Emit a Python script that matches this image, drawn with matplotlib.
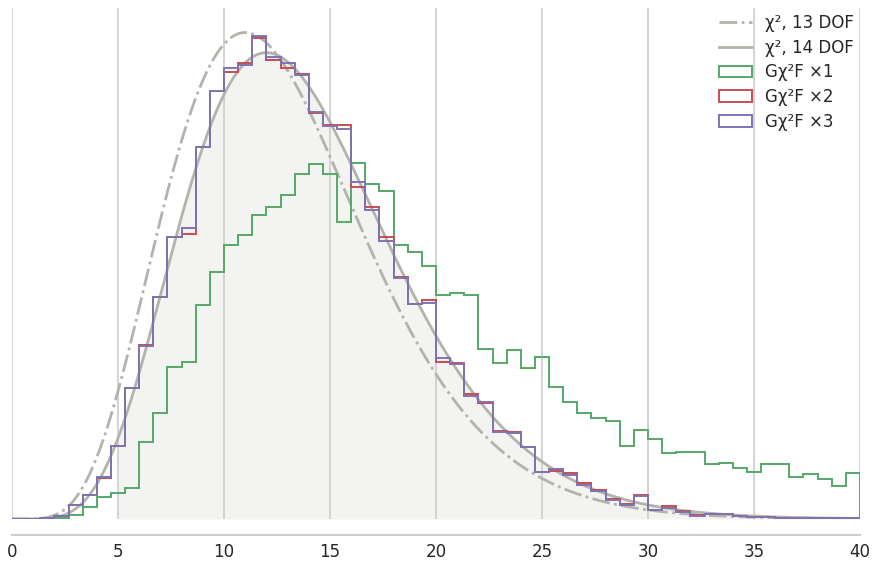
import math
import numpy as np
import matplotlib
matplotlib.use("Agg")
import matplotlib.pyplot as plt

# 60 bins of width 2/3 between 0 and 40
edges = np.linspace(0, 40, 61)

# densities, one value per bin
gx1 = [0, 0, 0, 0.0002, 0.0007, 0.0021, 0.0038, 0.0045, 0.0053, 0.0133,
       0.0183, 0.0262, 0.0270, 0.0369, 0.0425, 0.0472, 0.0489, 0.0524, 0.0537, 0.0558,
       0.0594, 0.0611, 0.0594, 0.0511, 0.0613, 0.0577, 0.0565, 0.0472, 0.0460, 0.0435,
       0.0386, 0.0389, 0.0386, 0.0293, 0.0269, 0.0291, 0.0260, 0.0279, 0.0227, 0.0201,
       0.0183, 0.0174, 0.0169, 0.0126, 0.0153, 0.0138, 0.0114, 0.0115, 0.0115, 0.0095,
       0.0096, 0.0088, 0.0081, 0.0095, 0.0095, 0.0072, 0.0077, 0.0069, 0.0057, 0.0079]
gx2 = [0, 0, 0.0001, 0.0005, 0.0024, 0.0041, 0.0071, 0.0126, 0.0226, 0.0300,
       0.0382, 0.0486, 0.0491, 0.0641, 0.0737, 0.0770, 0.0785, 0.0828, 0.0790, 0.0777,
       0.0766, 0.0699, 0.0678, 0.0678, 0.0572, 0.0537, 0.0486, 0.0417, 0.0370, 0.0377,
       0.0270, 0.0269, 0.0215, 0.0200, 0.0152, 0.0150, 0.0124, 0.0081, 0.0083, 0.0079,
       0.0062, 0.0050, 0.0034, 0.0026, 0.0041, 0.0015, 0.0022, 0.0014, 0.0007, 0.0009,
       0.0009, 0.0005, 0.0003, 0.0003, 0.0002, 0.0002, 0.0002, 0.0001, 0.0001, 0.0001]
gx3 = [0, 0, 0.0001, 0.0005, 0.0024, 0.0041, 0.0073, 0.0126, 0.0226, 0.0298,
       0.0382, 0.0486, 0.0501, 0.0641, 0.0737, 0.0777, 0.0782, 0.0832, 0.0796, 0.0785,
       0.0765, 0.0701, 0.0677, 0.0672, 0.0580, 0.0532, 0.0479, 0.0415, 0.0370, 0.0372,
       0.0277, 0.0267, 0.0212, 0.0201, 0.0150, 0.0148, 0.0124, 0.0081, 0.0086, 0.0076,
       0.0059, 0.0048, 0.0033, 0.0024, 0.0040, 0.0015, 0.0019, 0.0012, 0.0005, 0.0009,
       0.0009, 0.0005, 0.0003, 0.0003, 0.0002, 0.0002, 0.0002, 0.0001, 0.0001, 0.0001]

series = [(gx1, "Gχ²F ×1", "#55a868"),
          (gx2, "Gχ²F ×2", "#c44e52"),
          (gx3, "Gχ²F ×3", "#8172b2")]


def chi2_pdf(x, k):
    x = np.asarray(x, dtype=float)
    out = np.zeros_like(x)
    m = x > 0
    out[m] = np.exp((k / 2 - 1) * np.log(x[m]) - x[m] / 2
                    - (k / 2) * math.log(2) - math.lgamma(k / 2))
    return out


xs = np.linspace(0, 40, 801)
curve_col = "#b3b3ab"

fig = plt.figure(figsize=(8.72, 5.64), dpi=100)
ax = fig.add_axes([12 / 872, 45 / 564, 848 / 872, 511 / 564])

p14 = chi2_pdf(xs, 14)
ax.fill_between(xs[xs >= 5], p14[xs >= 5], color="#f3f3f1", lw=0, zorder=0)
ax.plot(xs, chi2_pdf(xs, 13), ls="-.", color=curve_col, lw=2, label="χ², 13 DOF", zorder=3)
ax.plot(xs, p14, color=curve_col, lw=2, label="χ², 14 DOF", zorder=3)

centers = (edges[:-1] + edges[1:]) / 2
for vals, lab, col in series:
    ax.hist(centers, bins=edges, weights=vals, histtype="step", color=col, lw=1.4,
            label=lab, zorder=4)

ax.set_xlim(0, 40)
ax.set_ylim(0, 0.088)
ax.set_xticks(range(0, 41, 5))
ax.set_yticks([])
ax.grid(axis="x", color="#cccccc", lw=1.2)
ax.set_axisbelow(True)
ax.tick_params(axis="x", length=0, labelsize=12, labelcolor="#262626", pad=6)
for s in ["top", "right", "left"]:
    ax.spines[s].set_visible(False)
ax.spines["bottom"].set_position(("outward", 11.5))
ax.spines["bottom"].set_color("#cccccc")
ax.spines["bottom"].set_linewidth(1.5)

ax.legend(loc="upper right", frameon=False, fontsize=12, handlelength=2.0,
          labelspacing=0.4, bbox_to_anchor=(1.004, 1.008), borderaxespad=0.2,
          handletextpad=0.75, labelcolor="#262626")

fig.savefig("out.png", dpi=100)
